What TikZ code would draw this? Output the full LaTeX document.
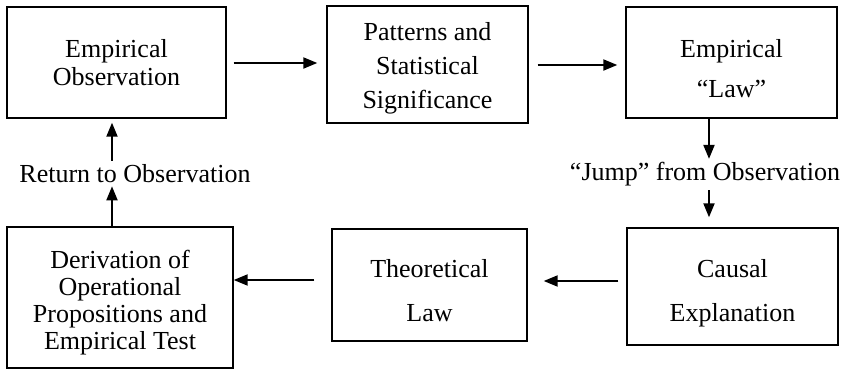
\documentclass[tikz,border=0pt]{standalone}
\usepackage{fontspec}
\setmainfont{Liberation Serif}
\usetikzlibrary{arrows.meta}
\newcommand{\dnrule}[1]{\rule{0pt}{#1}}
\begin{document}
\begin{tikzpicture}[x=1pt,y=-1pt,
  box/.style={draw, line width=1.4pt, inner sep=0pt, align=center,
    font=\fontsize{26}{28}\selectfont},
  lbl/.style={inner sep=0pt, font=\fontsize{26}{28}\selectfont},
  arr/.style={line width=2pt, -{Triangle[length=14pt,width=11pt]}}]
\useasboundingbox (0,0) rectangle (847,370);
\node[box, minimum width=219pt, minimum height=111pt] (obs) at (116.5,62.5) {Empirical\\Observation};
\node[box, minimum width=201pt, minimum height=117pt] (pat) at (427.5,64.5) {\dnrule{26pt}Patterns and\\[6pt]Statistical\\[6pt]Significance};
\node[box, minimum width=211pt, minimum height=111pt] (law) at (731.5,62.5) {\dnrule{30pt}Empirical\\[12pt]“Law”};
\node[box, minimum width=211pt, minimum height=117pt] (cau) at (732.5,286.5) {\dnrule{32pt}Causal\\[16pt]Explanation};
\node[box, minimum width=195pt, minimum height=112pt] (the) at (429.5,285) {\dnrule{30pt}Theoretical\\[16pt]Law};
\node[box, minimum width=226pt, minimum height=141pt] (der) at (120,297.5) {\dnrule{28pt}Derivation of\\[-1pt]Operational\\[-1pt]Propositions and\\[-1pt]Empirical Test};
\node[lbl] (jump) at (705,174) {“Jump” from Observation};
\node[lbl] (ret) at (135,174) {Return to Observation};
\coordinate (jx) at (709,0);
\coordinate (rx) at (112,0);
\draw[arr, shorten <=7pt, shorten >=9pt] (obs.east |- 0,63) -- (pat.west |- 0,63);
\draw[arr, shorten <=9pt, shorten >=8pt] (pat.east |- 0,65) -- (law.west |- 0,65);
\draw[arr, shorten >=3pt] (law.south -| jx) -- (jump.north -| jx);
\draw[arr, shorten <=4pt, shorten >=10pt] (jump.south -| jx) -- (cau.north -| jx);
\draw[arr, shorten <=8pt, shorten >=16pt] (cau.west |- 0,281) -- (the.east |- 0,281);
\draw[arr, shorten <=17pt] (the.west |- 0,280) -- (der.east |- 0,280);
\draw[arr, shorten >=3pt] (der.north -| rx) -- (ret.south -| rx);
\draw[arr, shorten <=4pt, shorten >=4pt] (ret.north -| rx) -- (obs.south -| rx);
\end{tikzpicture}
\end{document}
